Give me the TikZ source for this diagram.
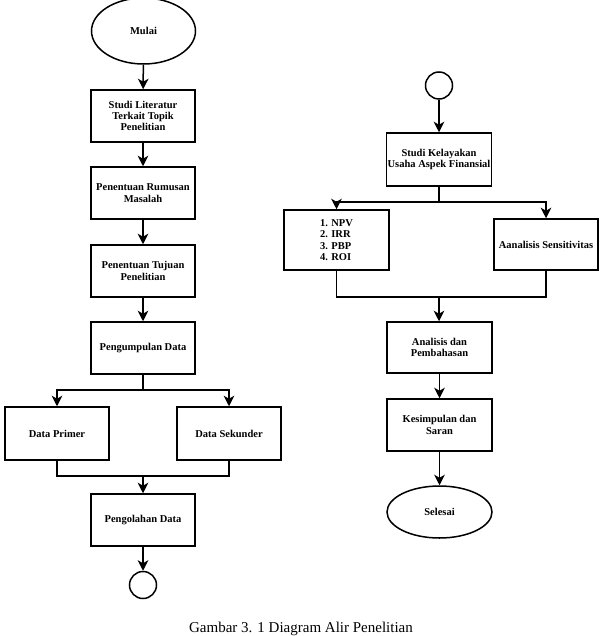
\documentclass[tikz,border=0pt]{standalone}
\usepackage{fontspec}
\setmainfont{Liberation Serif}
\usetikzlibrary{shapes.geometric,arrows.meta}
\begin{document}
\begin{tikzpicture}[x=1pt,y=-1pt,
  lbl/.style={font=\fontsize{10.5}{11.3}\selectfont\bfseries},
  box/.style={lbl,draw,line width=1.5pt,rectangle,minimum width=104pt,minimum height=52pt,inner sep=1pt,align=center},
  term/.style={lbl,draw,line width=1.5pt,ellipse,inner sep=0pt,minimum width=104pt,minimum height=52pt},
  conn/.style={draw,line width=1.5pt,circle,inner sep=0pt,minimum size=27pt},
  line/.style={line width=1.5pt},
  arr/.style={line,-{Stealth[length=10.5pt,width=10.5pt,inset=3pt]}}]
\useasboundingbox (0,0) rectangle (603,636);
% left column
\node[term,minimum height=66pt] (mulai) at (143.5,31) {Mulai};
\node[box] (s1) at (143,116) {Studi Literatur\\Terkait Topik\\Penelitian};
\node[box] (s2) at (143,193) {Penentuan Rumusan\\Masalah};
\node[box] (s3) at (143,271) {Penentuan Tujuan\\Penelitian};
\node[box] (s4) at (143,348) {Pengumpulan Data};
\node[box,minimum height=53pt] (dp) at (57,433.5) {Data Primer};
\node[box,minimum height=53pt] (ds) at (229,433.5) {Data Sekunder};
\node[box] (s5) at (143,520) {Pengolahan Data};
\node[conn] (c1) at (143,585) {};
\coordinate (b1) at (143,390);
\coordinate (m1) at (143,476);
\draw[arr] (mulai) -- (s1);
\draw[arr] (s1) -- (s2);
\draw[arr] (s2) -- (s3);
\draw[arr] (s3) -- (s4);
\draw[line] (s4) -- (b1);
\draw[arr] (b1) -| (dp);
\draw[arr] (b1) -| (ds);
\draw[line] (dp) |- (m1);
\draw[line] (ds) |- (m1);
\draw[arr] (m1) -- (s5);
\draw[arr] (s5) -- (c1);
% right column
\node[conn] (c2) at (439,85.5) {};
\node[box,minimum height=53pt] (sk) at (439,159.5) {Studi Kelayakan\\Usaha Aspek Finansial};
\node[box,minimum width=105pt,minimum height=60pt,align=left] (npv) at (336.5,240) {1. NPV\\2. IRR\\3. PBP\\4. ROI};
\node[box,minimum height=51pt] (sens) at (546,244.5) {Aanalisis Sensitivitas};
\node[box,minimum width=105pt,minimum height=51pt] (ap) at (439.5,347.5) {Analisis dan\\Pembahasan};
\node[box,minimum width=105pt] (ks) at (439.5,425) {Kesimpulan dan\\Saran};
\node[term,minimum width=105pt] (sel) at (439.5,512) {Selesai};
\coordinate (b2) at (439,202);
\coordinate (m2) at (439,297);
\draw[arr] (c2) -- (sk);
\draw[line] (sk) -- (b2);
\draw[arr] (b2) -| (npv);
\draw[arr] (b2) -| (sens);
\draw[line] (npv) |- (m2);
\draw[line] (sens) |- (m2);
\draw[arr] (m2) -- (m2 |- ap.north);
\draw[arr] (ap) -- (ks);
\draw[arr] (ks) -- (sel);
% caption
\node[font=\fontsize{15}{18}\selectfont,anchor=base] (cap) at (301,632) {Gambar 3. 1 Diagram Alir Penelitian};
\end{tikzpicture}
\end{document}
